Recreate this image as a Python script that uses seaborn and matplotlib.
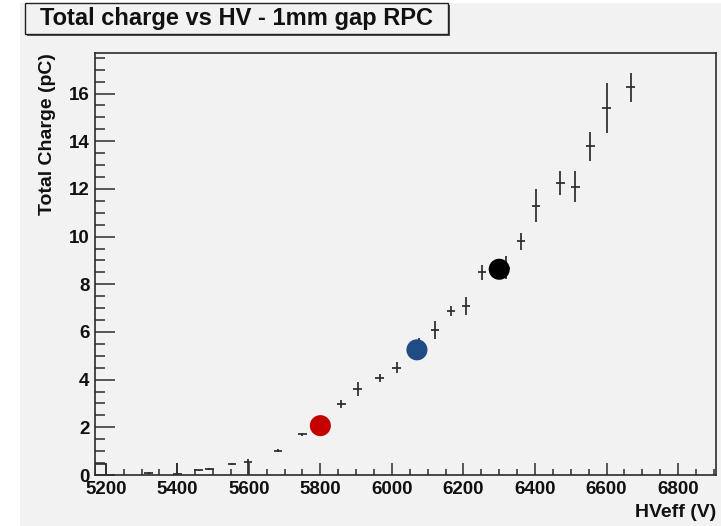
import matplotlib
matplotlib.use("Agg")
import matplotlib.pyplot as plt
from matplotlib.patches import Rectangle
from matplotlib.ticker import MultipleLocator
import numpy as np
import pandas as pd
import seaborn as sns

# Measured total charge per effective HV setting
hv_eff = [5320, 5400, 5460, 5490, 5553, 5598, 5682, 5750, 5800, 5859, 5904, 5966,
          6013, 6075, 6120, 6165, 6207, 6252, 6318, 6361, 6403, 6471, 6513, 6555,
          6600, 6667]
charge = [0.08, 0.05, 0.20, 0.24, 0.46, 0.55, 1.02, 1.70, 2.07, 2.99, 3.60, 4.05,
          4.50, 5.30, 6.10, 6.86, 7.08, 8.50, 8.70, 9.80, 11.30, 12.25, 12.10, 13.78,
          15.38, 16.26]
err_low = [0.05, 0.05, 0.02, 0.05, 0.05, 0.55, 0.06, 0.06, 0.15, 0.16, 0.29, 0.17,
           0.22, 0.45, 0.38, 0.21, 0.39, 0.31, 0.50, 0.37, 0.68, 0.52, 0.63, 0.59,
           1.05, 0.62]
err_high = [0.05, 0.45, 0.02, 0.05, 0.05, 0.12, 0.06, 0.06, 0.15, 0.16, 0.29, 0.17,
            0.22, 0.45, 0.38, 0.21, 0.39, 0.31, 0.50, 0.37, 0.68, 0.52, 0.63, 0.59,
            1.05, 0.62]
bin_half_width = 12

# Underflow bin at the left edge of the range
underflow_edges = [5170, 5200]
underflow_value = 0.46

# Working points highlighted on the curve
wp_hv = [5800, 6070, 6300]
wp_charge = [2.07, 5.25, 8.63]
wp_name = ["low", "mid", "high"]
wp_colors = {"low": "#c40000", "mid": "#1f4c87", "high": "#000000"}

sns.set_style("ticks")
plt.rcParams["font.family"] = ["Liberation Sans", "DejaVu Sans"]
plt.rcParams["font.weight"] = "bold"

W, H = 721, 526
fig = plt.figure(figsize=(W / 100, H / 100), dpi=100, facecolor="white")
fig.patches.append(Rectangle((20 / W, 0), 1 - 20 / W, 1 - 3 / H,
                             transform=fig.transFigure, facecolor="#f2f2f2",
                             edgecolor="none", zorder=-10))

ax = fig.add_axes([95 / W, 1 - 475 / H, (716 - 95) / W, (475 - 53) / H])
ax.set_facecolor("#f2f2f2")

ink = "#2b2b2b"
ax.errorbar(hv_eff, charge, xerr=bin_half_width,
            yerr=[err_low, err_high], fmt="none", ecolor=ink,
            elinewidth=1.25, capsize=0, zorder=3)

# Outline of the underflow bin
ax.plot([underflow_edges[0], underflow_edges[0], underflow_edges[1], underflow_edges[1]],
        [0, underflow_value, underflow_value, 0], color=ink, lw=1.2, zorder=3)

wp = pd.DataFrame({"hv": wp_hv, "charge": wp_charge, "name": wp_name})
sns.scatterplot(data=wp, x="hv", y="charge", hue="name", palette=wp_colors,
                s=230, linewidth=0, legend=False, ax=ax, zorder=4)

ax.set_xlim(5170, 6906)
ax.set_ylim(0, 17.7)
ax.xaxis.set_major_locator(MultipleLocator(200))
ax.xaxis.set_minor_locator(MultipleLocator(50))
ax.yaxis.set_major_locator(MultipleLocator(2))
ax.yaxis.set_minor_locator(MultipleLocator(0.5))

for side in ax.spines.values():
    side.set_color(ink)
    side.set_linewidth(1.2)
    side.set_visible(True)

ax.tick_params(axis="x", which="major", direction="in", length=8.6, width=1.1,
               color=ink, labelsize=13.5, pad=4.5, labelcolor="#111111")
ax.tick_params(axis="x", which="minor", direction="in", length=4.3, width=1.1, color=ink)
ax.tick_params(axis="y", which="major", direction="in", length=14.4, width=1.1,
               color=ink, labelsize=13.5, pad=4, labelcolor="#111111")
ax.tick_params(axis="y", which="minor", direction="in", length=7.2, width=1.1, color=ink)
for lab in ax.get_xticklabels() + ax.get_yticklabels():
    lab.set_fontweight("bold")

ax.set_xlabel("HVeff (V)", fontsize=14, fontweight="bold", color="#111111")
ax.xaxis.set_label_coords(1.0, -0.068)
ax.xaxis.label.set_horizontalalignment("right")
ax.set_ylabel("Total Charge (pC)", fontsize=14, fontweight="bold", color="#111111")
ax.yaxis.set_label_coords(-0.076, 1.0)
ax.yaxis.label.set_verticalalignment("center")
ax.yaxis.label.set_horizontalalignment("right")

# Title box with drop shadow
fig.patches.append(Rectangle((27 / W, 1 - 36 / H), 423 / W, 31 / H,
                             transform=fig.transFigure, facecolor="#555555",
                             edgecolor="none", zorder=5))
fig.patches.append(Rectangle((25 / W, 1 - 34 / H), 423 / W, 31 / H,
                             transform=fig.transFigure, facecolor="#f2f2f2",
                             edgecolor="#222222", linewidth=1.0, zorder=6))
fig.text(236 / W, 1 - 19 / H, "Total charge vs HV - 1mm gap RPC",
         ha="center", va="center", fontsize=17, fontweight="bold",
         color="#111111", zorder=7)

fig.savefig("out.png", dpi=100, facecolor=fig.get_facecolor())
